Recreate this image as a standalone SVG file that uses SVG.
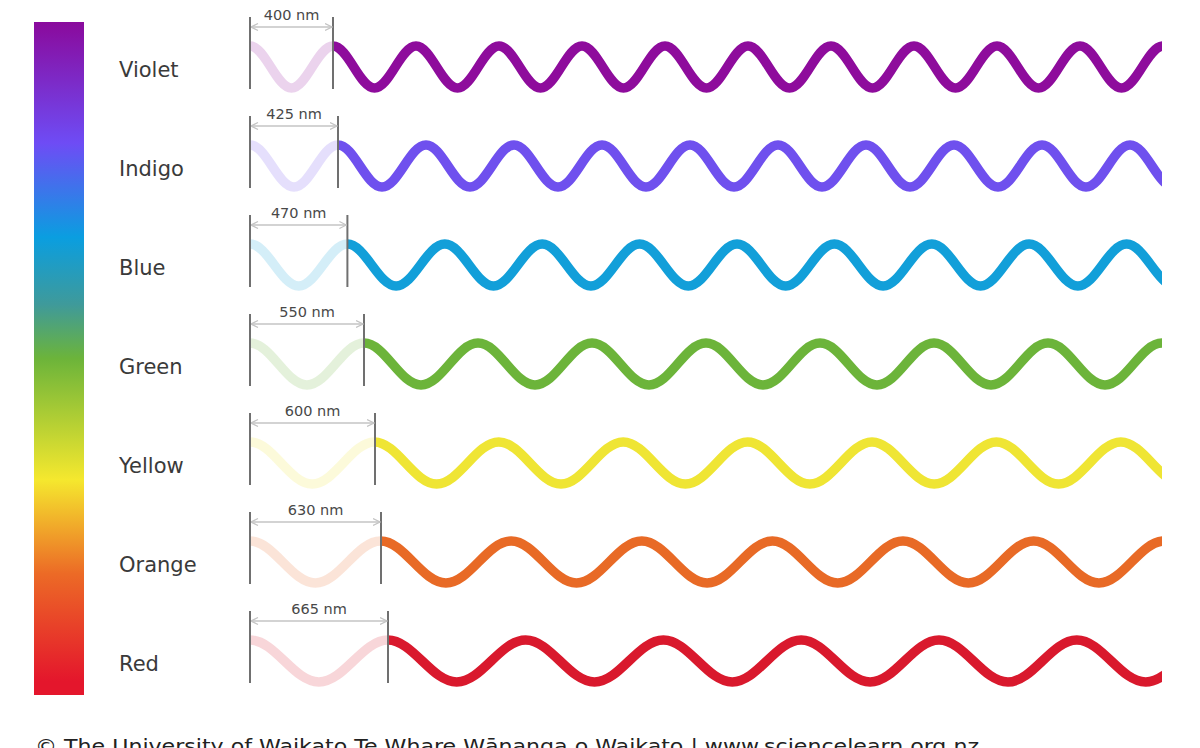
<svg xmlns="http://www.w3.org/2000/svg" width="1200" height="748" viewBox="0 0 1200 748">
<style>
.label{font-family:"DejaVu Sans",Verdana,sans-serif;font-size:21px;fill:#3a3a3a}
.dim{font-family:"DejaVu Sans",Verdana,sans-serif;font-size:14.5px;fill:#484848;text-anchor:middle}
.wave{fill:none;stroke-width:9.5;stroke-linecap:butt}
.pale{fill:none;stroke-width:9.5;stroke-linecap:butt;stroke-opacity:0.18}
.vline{stroke:#707070;stroke-width:2}
.hline{stroke:#c4c4c4;stroke-width:1.5;fill:none}
.footer{font-family:"DejaVu Sans",Verdana,sans-serif;font-size:20px;fill:#222}
</style>
<defs>
<linearGradient id="spec" x1="0" y1="0" x2="0" y2="1">
<stop offset="0" stop-color="#8a0a9c"/>
<stop offset="0.18" stop-color="#6e4cf5"/>
<stop offset="0.32" stop-color="#0a9ee0"/>
<stop offset="0.42" stop-color="#3f9a9a"/>
<stop offset="0.50" stop-color="#6cb43a"/>
<stop offset="0.68" stop-color="#f5e82e"/>
<stop offset="0.82" stop-color="#ec6a26"/>
<stop offset="0.98" stop-color="#e4162c"/>
<stop offset="1" stop-color="#e4162c"/>
</linearGradient>
<clipPath id="clip"><rect x="0" y="-100" width="1162" height="200"/></clipPath>
<marker id="arr" viewBox="0 0 8 8" refX="7.5" refY="4" markerWidth="8" markerHeight="8" markerUnits="userSpaceOnUse" orient="auto-start-reverse">
<path d="M0.5,0.5 L7.5,4 L0.5,7.5" fill="none" stroke="#c4c4c4" stroke-width="1.2"/>
</marker>
</defs>
<rect width="1200" height="748" fill="#fff"/>
<g id="spectrum-bar"><rect x="34" y="22" width="50" height="673" fill="url(#spec)"/></g>

<g id="row-violet" transform="translate(0,67)">
<text class="label" x="119" y="10">Violet</text>
<path class="pale" stroke="#8e0c9c" d="M250,-21 c15.1,0 26.4,42 41.5,42 s26.4,-42 41.5,-42"/>
<path class="wave" stroke="#8e0c9c" clip-path="url(#clip)" d="M333,-21 c15.1,0 26.4,42 41.5,42 s26.4,-42 41.5,-42 s26.4,42 41.5,42 s26.4,-42 41.5,-42 s26.4,42 41.5,42 s26.4,-42 41.5,-42 s26.4,42 41.5,42 s26.4,-42 41.5,-42 s26.4,42 41.5,42 s26.4,-42 41.5,-42 s26.4,42 41.5,42 s26.4,-42 41.5,-42 s26.4,42 41.5,42 s26.4,-42 41.5,-42 s26.4,42 41.5,42 s26.4,-42 41.5,-42 s26.4,42 41.5,42 s26.4,-42 41.5,-42 s26.4,42 41.5,42 s26.4,-42 41.5,-42 s26.4,42 41.5,42 s26.4,-42 41.5,-42"/>
<line class="vline" x1="250" y1="-50" x2="250" y2="22"/>
<line class="vline" x1="333" y1="-50" x2="333" y2="22"/>
<line class="hline" x1="251" y1="-40" x2="332" y2="-40" marker-start="url(#arr)" marker-end="url(#arr)"/>
<text class="dim" x="291.5" y="-47">400 nm</text>
</g>

<g id="row-indigo" transform="translate(0,166)">
<text class="label" x="119" y="10">Indigo</text>
<path class="pale" stroke="#6f50ee" d="M250,-21 c16,0 28,42 44,42 s28,-42 44,-42"/>
<path class="wave" stroke="#6f50ee" clip-path="url(#clip)" d="M338,-21 c16,0 28,42 44,42 s28,-42 44,-42 s28,42 44,42 s28,-42 44,-42 s28,42 44,42 s28,-42 44,-42 s28,42 44,42 s28,-42 44,-42 s28,42 44,42 s28,-42 44,-42 s28,42 44,42 s28,-42 44,-42 s28,42 44,42 s28,-42 44,-42 s28,42 44,42 s28,-42 44,-42 s28,42 44,42 s28,-42 44,-42 s28,42 44,42 s28,-42 44,-42"/>
<line class="vline" x1="250" y1="-50" x2="250" y2="22"/>
<line class="vline" x1="338" y1="-50" x2="338" y2="22"/>
<line class="hline" x1="251" y1="-40" x2="337" y2="-40" marker-start="url(#arr)" marker-end="url(#arr)"/>
<text class="dim" x="294" y="-47">425 nm</text>
</g>

<g id="row-blue" transform="translate(0,265)">
<text class="label" x="119" y="10">Blue</text>
<path class="pale" stroke="#129fd9" d="M250,-21 c17.7,0 31,42 48.7,42 s31,-42 48.7,-42"/>
<path class="wave" stroke="#129fd9" clip-path="url(#clip)" d="M347.4,-21 c17.7,0 31,42 48.7,42 s31,-42 48.7,-42 s31,42 48.7,42 s31,-42 48.7,-42 s31,42 48.7,42 s31,-42 48.7,-42 s31,42 48.7,42 s31,-42 48.7,-42 s31,42 48.7,42 s31,-42 48.7,-42 s31,42 48.7,42 s31,-42 48.7,-42 s31,42 48.7,42 s31,-42 48.7,-42 s31,42 48.7,42 s31,-42 48.7,-42 s31,42 48.7,42 s31,-42 48.7,-42"/>
<line class="vline" x1="250" y1="-50" x2="250" y2="22"/>
<line class="vline" x1="347.4" y1="-50" x2="347.4" y2="22"/>
<line class="hline" x1="251" y1="-40" x2="346.4" y2="-40" marker-start="url(#arr)" marker-end="url(#arr)"/>
<text class="dim" x="298.7" y="-47">470 nm</text>
</g>

<g id="row-green" transform="translate(0,364)">
<text class="label" x="119" y="10">Green</text>
<path class="pale" stroke="#6cb43a" d="M250,-21 c20.75,0 36.25,42 57,42 s36.25,-42 57,-42"/>
<path class="wave" stroke="#6cb43a" clip-path="url(#clip)" d="M364,-21 c20.75,0 36.25,42 57,42 s36.25,-42 57,-42 s36.25,42 57,42 s36.25,-42 57,-42 s36.25,42 57,42 s36.25,-42 57,-42 s36.25,42 57,42 s36.25,-42 57,-42 s36.25,42 57,42 s36.25,-42 57,-42 s36.25,42 57,42 s36.25,-42 57,-42 s36.25,42 57,42 s36.25,-42 57,-42 s36.25,42 57,42 s36.25,-42 57,-42"/>
<line class="vline" x1="250" y1="-50" x2="250" y2="22"/>
<line class="vline" x1="364" y1="-50" x2="364" y2="22"/>
<line class="hline" x1="251" y1="-40" x2="363" y2="-40" marker-start="url(#arr)" marker-end="url(#arr)"/>
<text class="dim" x="307" y="-47">550 nm</text>
</g>

<g id="row-yellow" transform="translate(0,463)">
<text class="label" x="119" y="10">Yellow</text>
<path class="pale" stroke="#efe534" d="M250,-21 c22.6,0 39.6,42 62.2,42 s39.6,-42 62.2,-42"/>
<path class="wave" stroke="#efe534" clip-path="url(#clip)" d="M374.4,-21 c22.6,0 39.6,42 62.2,42 s39.6,-42 62.2,-42 s39.6,42 62.2,42 s39.6,-42 62.2,-42 s39.6,42 62.2,42 s39.6,-42 62.2,-42 s39.6,42 62.2,42 s39.6,-42 62.2,-42 s39.6,42 62.2,42 s39.6,-42 62.2,-42 s39.6,42 62.2,42 s39.6,-42 62.2,-42 s39.6,42 62.2,42 s39.6,-42 62.2,-42"/>
<line class="vline" x1="250" y1="-50" x2="250" y2="22"/>
<line class="vline" x1="375" y1="-50" x2="375" y2="22"/>
<line class="hline" x1="251" y1="-40" x2="374" y2="-40" marker-start="url(#arr)" marker-end="url(#arr)"/>
<text class="dim" x="312.5" y="-47">600 nm</text>
</g>

<g id="row-orange" transform="translate(0,562)">
<text class="label" x="119" y="10">Orange</text>
<path class="pale" stroke="#e86a26" d="M250,-21 c23.8,0 41.5,42 65.3,42 s41.5,-42 65.3,-42"/>
<path class="wave" stroke="#e86a26" clip-path="url(#clip)" d="M380.6,-21 c23.8,0 41.5,42 65.3,42 s41.5,-42 65.3,-42 s41.5,42 65.3,42 s41.5,-42 65.3,-42 s41.5,42 65.3,42 s41.5,-42 65.3,-42 s41.5,42 65.3,42 s41.5,-42 65.3,-42 s41.5,42 65.3,42 s41.5,-42 65.3,-42 s41.5,42 65.3,42 s41.5,-42 65.3,-42 s41.5,42 65.3,42 s41.5,-42 65.3,-42"/>
<line class="vline" x1="250" y1="-50" x2="250" y2="22"/>
<line class="vline" x1="381" y1="-50" x2="381" y2="22"/>
<line class="hline" x1="251" y1="-40" x2="380" y2="-40" marker-start="url(#arr)" marker-end="url(#arr)"/>
<text class="dim" x="315.5" y="-47">630 nm</text>
</g>

<g id="row-red" transform="translate(0,661)">
<text class="label" x="119" y="10">Red</text>
<path class="pale" stroke="#d9192d" d="M250,-21 c25.1,0 43.8,42 68.9,42 s43.8,-42 68.9,-42"/>
<path class="wave" stroke="#d9192d" clip-path="url(#clip)" d="M387.8,-21 c25.1,0 43.8,42 68.9,42 s43.8,-42 68.9,-42 s43.8,42 68.9,42 s43.8,-42 68.9,-42 s43.8,42 68.9,42 s43.8,-42 68.9,-42 s43.8,42 68.9,42 s43.8,-42 68.9,-42 s43.8,42 68.9,42 s43.8,-42 68.9,-42 s43.8,42 68.9,42 s43.8,-42 68.9,-42 s43.8,42 68.9,42 s43.8,-42 68.9,-42"/>
<line class="vline" x1="250" y1="-50" x2="250" y2="22"/>
<line class="vline" x1="388" y1="-50" x2="388" y2="22"/>
<line class="hline" x1="251" y1="-40" x2="387" y2="-40" marker-start="url(#arr)" marker-end="url(#arr)"/>
<text class="dim" x="319" y="-47">665 nm</text>
</g>

<g id="footer"><text class="footer" x="35" y="753" textLength="944" lengthAdjust="spacingAndGlyphs">© The University of Waikato Te Whare Wānanga o Waikato | www.sciencelearn.org.nz</text></g>
</svg>
